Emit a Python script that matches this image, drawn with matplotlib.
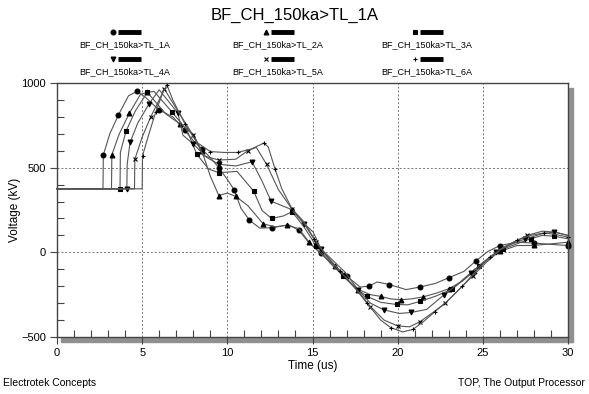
import matplotlib.pyplot as plt
from matplotlib.lines import Line2D
from matplotlib.patches import Rectangle
from matplotlib.ticker import MultipleLocator

plt.rcParams['font.family'] = ['Liberation Sans Narrow', 'Liberation Sans', 'DejaVu Sans']

title = "BF_CH_150ka>TL_1A"
names = ["BF_CH_150ka>TL_1A", "BF_CH_150ka>TL_2A", "BF_CH_150ka>TL_3A",
         "BF_CH_150ka>TL_4A", "BF_CH_150ka>TL_5A", "BF_CH_150ka>TL_6A"]
markers = ['o', '^', 's', 'v', 'x', '+']

# curve 1 (circles)
t1 = [0, 2.7, 2.72, 3.1, 3.6, 4.2, 4.7, 5.2, 6.0, 6.8, 7.5, 8.0, 8.5, 9.0, 9.5, 10.0, 10.4, 10.8,
      11.3, 11.9, 12.6, 13.6, 14.2, 14.8, 15.5, 16.2, 17.0, 17.8, 18.3, 18.8, 19.5, 20.5, 21.3,
      22.2, 23.0, 23.9, 24.6, 25.3, 26.0, 27.0, 28.0, 29.0, 30.0]
v1 = [375, 375, 575, 700, 810, 925, 950, 915, 840, 800, 720, 660, 610, 560, 500, 430, 370, 260,
      190, 143, 145, 163, 130, 55, -5, -70, -140, -205, -200, -175, -190, -220, -205,
      -184, -150, -112, -50, 5, 40, 60, 55, 47, 40]
# curve 2 (triangles up)
t2 = [0, 3.2, 3.22, 3.65, 4.25, 4.9, 5.3, 6.4, 7.2, 8.0, 8.5, 9.0, 9.5, 10.0, 10.5, 11.2, 12.1,
      12.8, 13.5, 14.2, 14.8, 15.5, 16.3, 17.0, 17.7, 18.4, 19.0, 19.6, 20.2, 20.8, 21.5, 22.3,
      23.0, 23.8, 24.5, 25.2, 26.0, 27.0, 28.0, 29.0, 30.0]
v2 = [375, 375, 576, 698, 822, 933, 945, 816, 760, 698, 600, 450, 335, 350, 330, 276, 169,
      150, 160, 140, 60, -10, -80, -160, -220, -250, -260, -275, -280, -275, -263, -240,
      -215, -170, -110, -50, 5, 40, 41, 50, 60]
# curve 3 (squares)
t3 = [0, 1.75, 3.7, 3.72, 4.05, 4.6, 5.3, 5.7, 6.75, 7.63, 8.2, 8.9, 9.5, 10.57, 11.55, 12.04,
      12.6, 13.3, 13.8, 14.5, 15.2, 16.0, 16.8, 17.5, 18.2, 19.0, 19.94, 20.6, 21.3, 22.2, 23.2,
      24.0, 24.8, 25.5, 26.2, 27.0, 27.8, 28.5, 29.2, 30.0]
v3 = [375, 375, 375, 590, 715, 835, 945, 950, 829, 721, 580, 492, 470, 478, 361, 247,
      200, 215, 240, 150, 40, -60, -140, -210, -260, -295, -308, -310, -290, -260, -218,
      -150, -80, -20, 20, 50, 80, 100, 95, 80]
# curve 4 (triangles down)
t4 = [0, 3.4, 4.1, 4.12, 4.29, 4.74, 5.41, 6.0, 7.1, 7.39, 8.0, 8.8, 9.5, 10.5, 11.45, 12.04,
      12.57, 13.76, 14.5, 15.04, 15.5, 16.9, 17.7, 18.4, 19.2, 20.1, 20.8, 21.7, 22.7, 23.5,
      24.3, 25.0, 25.8, 26.5, 27.5, 28.5, 29.2, 30.0]
v4 = [375, 375, 375, 520, 649, 763, 878, 960, 822, 692, 640, 560, 520, 510, 535, 420,
      302, 253, 170, 120, 20, -116, -224, -300, -340, -361, -355, -337, -253, -190,
      -120, -60, 0, 40, 80, 110, 120, 100]
# curve 5 (crosses)
t5 = [0, 4.55, 4.57, 5.0, 5.5, 6.0, 6.3, 7.0, 8.0, 8.6, 9.5, 10.5, 11.2, 11.7, 12.3, 13.0, 13.8,
      14.5, 15.2, 16.0, 16.8, 17.6, 18.4, 19.2, 20.0, 20.7, 21.3, 22.0, 22.8, 23.6, 24.4, 25.2,
      26.0, 26.8, 27.6, 28.5, 29.2, 30.0]
v5 = [375, 375, 550, 680, 800, 900, 965, 850, 690, 570, 545, 550, 600, 620, 520, 370, 255,
      170, 60, -40, -130, -220, -320, -400, -435, -440, -410, -360, -300, -220, -140, -60,
      10, 60, 100, 125, 120, 100]
# curve 6 (plus)
t6 = [0, 5.0, 5.02, 5.4, 5.8, 6.2, 6.45, 6.8, 7.5, 8.2, 9.0, 9.8, 10.6, 11.4, 12.14, 12.4, 12.8,
      13.2, 13.8, 14.5, 15.1, 15.8, 16.6, 17.4, 18.2, 19.0, 19.6, 20.3, 20.9, 21.5, 22.2, 23.0,
      23.8, 24.6, 25.4, 26.2, 27.0, 27.8, 28.6, 29.3, 30.0]
v6 = [375, 375, 570, 700, 830, 940, 990, 900, 760, 650, 595, 590, 590, 610, 645, 623, 492,
      375, 257, 180, 80, -20, -110, -200, -300, -400, -445, -470, -455, -410, -350, -280,
      -200, -110, -30, 30, 70, 100, 115, 105, 90]

ts = [t1, t2, t3, t4, t5, t6]
vs = [v1, v2, v3, v4, v5, v6]

W, H = 589, 394
fig = plt.figure(figsize=(W / 100, H / 100), dpi=100)
x0, x1, y0, y1 = 57, 568, 83, 337
ax = fig.add_axes([x0 / W, 1 - y1 / H, (x1 - x0) / W, (y1 - y0) / H])

for i in range(6):
    ax.plot(ts[i], vs[i], color='#555555', lw=0.8, marker=markers[i], markersize=3.5,
            markerfacecolor='black', markeredgecolor='black', markeredgewidth=0.8,
            markevery=(2, 2), clip_on=False)

ax.set_xlim(0, 30)
ax.set_ylim(-500, 1000)
ax.xaxis.set_major_locator(MultipleLocator(5))
ax.xaxis.set_minor_locator(MultipleLocator(1))
ax.yaxis.set_major_locator(MultipleLocator(500))
ax.yaxis.set_minor_locator(MultipleLocator(100))
ax.tick_params(which='major', direction='out', length=5, width=0.8, color='#444444',
               labelsize=8, pad=3)
ax.tick_params(which='minor', direction='in', length=5, width=0.8, color='#444444')
ax.grid(True, which='major', linestyle=(0, (2, 2)), color='#777777', lw=0.7)
for s in ax.spines.values():
    s.set_color('#444444')
    s.set_linewidth(1.0)

ax.set_xlabel('Time (us)', fontsize=8.5, labelpad=1)
ax.set_ylabel('Voltage (kV)', fontsize=8.5)
ax.yaxis.set_label_coords(-0.07, 0.5)

# drop shadow right and bottom
fig.add_artist(Rectangle(((x0 + 4) / W, 1 - (y1 + 5) / H), (x1 - x0) / W, 4 / H,
                         transform=fig.transFigure, color='#909090', zorder=0))
fig.add_artist(Rectangle(((x1 + 1) / W, 1 - (y1 + 5) / H), 4 / W, (y1 - y0) / H,
                         transform=fig.transFigure, color='#909090', zorder=0))

fig.text(295 / W, 1 - 15 / H, title, ha='center', va='center', fontsize=12)

# legend block
cols = [125, 278, 427]
rows = [(32, 45), (59, 72)]
for i in range(6):
    c = cols[i % 3]
    mr, lr = rows[i // 3]
    fig.add_artist(Line2D([(c - 12) / W], [1 - mr / H], marker=markers[i], markersize=3.5,
                          color='black', markeredgewidth=0.8, transform=fig.transFigure))
    fig.add_artist(Line2D([(c - 7) / W, (c + 16) / W], [1 - mr / H, 1 - mr / H],
                          color='black', lw=3.5, solid_capstyle='butt',
                          transform=fig.transFigure))
    fig.text(c / W, 1 - lr / H, names[i], ha='center', va='center', fontsize=6.5)

fig.text(3 / W, 1 - 383 / H, 'Electrotek Concepts', ha='left', va='center', fontsize=7.5)
fig.text(585 / W, 1 - 383 / H, 'TOP, The Output Processor', ha='right', va='center',
         fontsize=7.5)

fig.savefig('out.png', dpi=100, facecolor='white')
